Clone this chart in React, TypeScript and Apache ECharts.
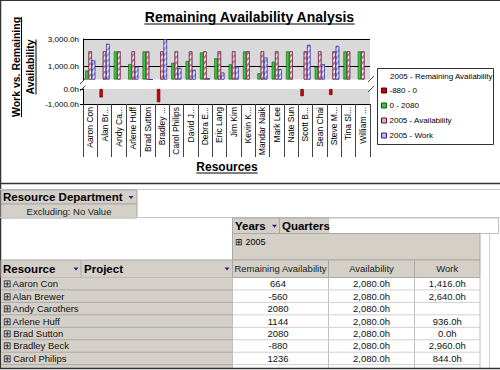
import React, { useEffect, useRef } from "react";
import * as echarts from "echarts";

const FONT = '"Liberation Sans", Arial, sans-serif';

const categories = [
  "Aaron Con", "Alan Br...", "Andy Ca...", "Arlene Huff", "Brad Sutton", "Bradley ...",
  "Carol Philips", "David J...", "Debra E...", "Eric Lang", "Jim Kim", "Kevin K...",
  "Mandar Naik", "Mark Lee", "Nate Sun", "Scott B...", "Sean Chai", "Steve M...",
  "Tina Sl...", "William ...",
];
const remainingAvailability = [
  664, -560, 2080, 1144, 2080, -880, 1236, 1368, 2000, 1570,
  1125, 2080, 460, 1320, 2080, -480, 950, -400, 2080, 2080,
];
const availability = [
  2080, 2080, 2080, 2080, 2080, 2080, 2080, 2080, 2080, 2080,
  2080, 2080, 2080, 2080, 2080, 2080, 2080, 2080, 2080, 2080,
];
const work: (number | null)[] = [
  1416, 2640, null, 936, 0, 2960, 844, 712, 80, 510,
  955, null, 1620, 760, null, 2560, 1130, 2480, null, null,
];
const topTickLabels = [1000, 3000];
const bottomTickLabels = [0, -1000];
const legendLabels = ["2005 - Remaining Availability", "-880 - 0", "0 - 2080", "2005 - Availability", "2005 - Work"];
const tableResources = ["Aaron Con", "Alan Brewer", "Andy Carothers", "Arlene Huff", "Brad Sutton", "Bradley Beck", "Carol Philips"];
const tableColumns = ["Remaining Availability", "Availability", "Work"];

const fmtHours = (v: number) =>
  v.toLocaleString("en-US", { minimumFractionDigits: 1, maximumFractionDigits: 1 }) + "h";

function measure(text: string, font: string) {
  const ctx = document.createElement("canvas").getContext("2d")!;
  ctx.font = font;
  return ctx.measureText(text).width;
}

function buildGraphics() {
  const g: any[] = [];
  const line = (x1: number, y1: number, x2: number, y2: number, stroke: string, lw = 1) =>
    g.push({ type: "line", silent: true, shape: { x1, y1, x2, y2 }, style: { stroke, lineWidth: lw } });
  const rect = (x: number, y: number, w: number, h: number, fill: string, stroke?: string) =>
    g.push({ type: "rect", silent: true, shape: { x, y, width: w, height: h }, style: { fill, stroke: stroke || "none", lineWidth: 1 } });
  const text = (x: number, y: number, t: string, size: number, opts: any = {}) =>
    g.push({
      type: "text", silent: true, x, y, rotation: opts.rotation || 0,
      style: {
        text: t, fontSize: size, fontFamily: FONT, fontWeight: opts.bold ? "bold" : "normal",
        fill: opts.color || "#000", align: opts.align || "left", textAlign: opts.align || "left",
        verticalAlign: "middle", textVerticalAlign: "middle",
      },
    });
  const arrow = (x: number, y: number) =>
    g.push({ type: "polygon", silent: true, shape: { points: [[x - 2.5, y - 1], [x + 2.5, y - 1], [x, y + 2]] }, style: { fill: "#22228a" } });

  // ---- chart titles ----
  const title = "Remaining Availability Analysis";
  const tw = measure(title, `bold 14px ${FONT}`);
  text(249.5, 17, title, 14, { bold: true, align: "center" });
  line(249.5 - tw / 2, 24, 249.5 + tw / 2, 24, "#000", 1);

  const yt1 = "Work vs. Remaining";
  const yt2 = "Availability";
  const w1 = measure(yt1, `bold 10.5px ${FONT}`);
  const w2 = measure(yt2, `bold 10.5px ${FONT}`);
  text(15.5, 67, yt1, 10.5, { bold: true, align: "center", rotation: Math.PI / 2 });
  line(21.5, 67 - w1 / 2, 21.5, 67 + w1 / 2, "#000", 1);
  text(30, 67, yt2, 10.5, { bold: true, align: "center", rotation: Math.PI / 2 });
  line(36, 67 - w2 / 2, 36, 67 + w2 / 2, "#000", 1);

  const xt = "Resources";
  const xw = measure(xt, `bold 12px ${FONT}`);
  text(227, 167, xt, 12, { bold: true, align: "center" });
  line(227 - xw / 2, 173, 227 + xw / 2, 173, "#000", 1);

  // axis break marks
  line(80, 84, 85.5, 78.5, "#444", 1);
  line(80, 91, 85.5, 85.5, "#444", 1);
  line(368, 82, 374, 76, "#444", 1);
  line(368, 92, 374, 86, "#444", 1);

  // ---- legend ----
  rect(377.5, 68.5, 116, 76, "#fff", "#333");
  text(390, 76.5, legendLabels[0], 8);
  const swatchFill = ["#cc0000", "#33cc33", "#e0b0c8", "#b8b8ff"];
  const swatchStroke = ["#5a0000", "#145214", "#5a1030", "#2a2a80"];
  for (let i = 1; i < legendLabels.length; i++) {
    const cy = 90.5 + 15 * (i - 1);
    rect(381.5, cy - 2.5, 5, 5, swatchFill[i - 1], swatchStroke[i - 1]);
    text(389.5, cy, legendLabels[i], 8);
  }

  // ---- frame ----
  line(0, 0.5, 500, 0.5, "#333", 1);
  line(0.5, 0, 0.5, 370, "#333", 1.5);
  line(0, 183.5, 500, 183.5, "#333", 1.5);

  // ---- pivot table ----
  const GRAY = "#d4d0c8";
  line(0, 189.5, 500, 189.5, "#c8c8c8", 1);
  rect(1, 190, 136, 14, GRAY, "#a8a8a8");
  rect(1, 204, 136, 14, GRAY, "#a8a8a8");
  text(3, 197, "Resource Department", 11.5, { bold: true });
  arrow(131, 197);
  text(69, 211.5, "Excluding: No Value", 9.5, { align: "center", color: "#222" });
  line(0, 217.5, 500, 217.5, "#c8c8c8", 1);

  // Years / Quarters
  rect(232.5, 218, 47, 15.5, GRAY, "#a8a8a8");
  rect(279.5, 218, 49, 15.5, GRAY, "#a8a8a8");
  rect(328.5, 218, 170, 15.5, "#fff", "#c0c0c0");
  text(235, 225.8, "Years", 11.5, { bold: true });
  arrow(274.5, 225.8);
  text(282, 225.8, "Quarters", 11.5, { bold: true });

  // 2005 group cell
  rect(232.5, 233.5, 247.5, 26.5, GRAY, "#a8a8a8");
  text(235, 241.5, "\u229E 2005", 9);

  // header row
  const colX = [232.5, 328.5, 414.5, 480];
  rect(1, 260, 231.5, 17.5, GRAY, "#a8a8a8");
  line(81, 260, 81, 277.5, "#a8a8a8", 1);
  text(3, 268.5, "Resource", 11.5, { bold: true });
  arrow(76, 268.5);
  text(84, 268.5, "Project", 11.5, { bold: true });
  arrow(227, 268.5);
  for (let c = 0; c < 3; c++) {
    rect(colX[c], 260, colX[c + 1] - colX[c], 17.5, GRAY, "#a8a8a8");
    text((colX[c] + colX[c + 1]) / 2, 268.5, tableColumns[c], 9.5, { align: "center", color: "#222" });
  }

  // data rows
  const rowTop = 277.5;
  const rowH = 12.45;
  rect(1, rowTop, 231.5, 370 - rowTop, GRAY);
  line(489.5, 233.5, 489.5, 368, "#d0d0d0", 1);
  for (let c = 0; c < colX.length; c++) line(colX[c], rowTop, colX[c], 370, "#c0c0c0", 1);
  for (let i = 0; i < tableResources.length; i++) {
    const y0 = rowTop + rowH * i;
    const cy = y0 + rowH / 2;
    line(1, y0 + rowH, 232.5, y0 + rowH, "#a8a8a8", 1);
    line(232.5, y0 + rowH, 480, y0 + rowH, "#d0d0d0", 1);
    text(2.5, cy, "\u229E " + tableResources[i], 9.5, { color: "#111" });
    const ra = remainingAvailability[i];
    text(278, cy, String(ra), 9.5, { align: "center", color: "#111" });
    text((colX[1] + colX[2]) / 2, cy, fmtHours(availability[i]), 9.5, { align: "center", color: "#111" });
    const wv = work[i];
    if (wv !== null) text((colX[2] + colX[3]) / 2, cy, fmtHours(wv), 9.5, { align: "center", color: "#111" });
  }
  rect(0, 368.5, 500, 2, "#fff");
  line(0, 368.5, 500, 368.5, "#333", 1.5);
  return g;
}

export default function App() {
  const ref = useRef<HTMLDivElement>(null);
  useEffect(() => {
    if (!ref.current) return;
    const chart = echarts.init(ref.current, undefined, { renderer: "svg" });
    const stripe = (color: string) => ({
      symbol: "rect", symbolSize: 1, dashArrayX: [1, 0], dashArrayY: [1.2, 1.4],
      rotation: -Math.PI / 4, color,
    });
    const barCommon = { barGap: "0%", barCategoryGap: "30%" };
    const option: any = {
      animation: false,
      textStyle: { fontFamily: FONT },
      grid: [
        { left: 83, top: 39, width: 287, height: 40.5, show: true, backgroundColor: "#d9d9d9", borderWidth: 0 },
        { left: 83, top: 89, width: 287, height: 15, show: true, backgroundColor: "#d9d9d9", borderWidth: 0 },
      ],
      xAxis: [
        { type: "category", gridIndex: 0, data: categories, show: false },
        {
          type: "category", gridIndex: 1, data: categories,
          axisLine: { onZero: false, lineStyle: { color: "#000", width: 1 } },
          axisTick: { show: true, interval: 0, length: 53, lineStyle: { color: "#444" } },
          axisLabel: { interval: 0, rotate: 90, margin: 3, fontSize: 8.5, color: "#000", fontFamily: FONT },
        },
      ],
      yAxis: [
        {
          type: "value", gridIndex: 0, min: 0, max: 3000, interval: 1000,
          axisLine: { show: true, lineStyle: { color: "#000" } },
          axisTick: { show: false },
          axisLabel: {
            margin: 4, fontSize: 8, color: "#000", fontFamily: FONT,
            formatter: (v: number) => (topTickLabels.includes(v) ? fmtHours(v) : ""),
          },
          splitLine: { show: true, lineStyle: { color: ["rgba(0,0,0,0)", "#000", "rgba(0,0,0,0)", "#000"], width: 1 } },
        },
        {
          type: "value", gridIndex: 1, min: -1000, max: 0, interval: 1000,
          axisLine: { show: true, lineStyle: { color: "#000" } },
          axisTick: { show: true, length: 3, lineStyle: { color: "#000" } },
          axisLabel: {
            margin: 4, fontSize: 8, color: "#000", fontFamily: FONT,
            formatter: (v: number) => (bottomTickLabels.includes(v) ? fmtHours(v) : ""),
          },
          splitLine: { show: false },
        },
      ],
      series: [
        {
          type: "bar", name: legendLabels[2], xAxisIndex: 0, yAxisIndex: 0, ...barCommon,
          data: remainingAvailability.map((v) => (v >= 0 ? v : null)),
          itemStyle: { color: "#33cc33", borderColor: "#145214", borderWidth: 0.6 },
        },
        {
          type: "bar", name: legendLabels[3], xAxisIndex: 0, yAxisIndex: 0, ...barCommon,
          data: availability,
          itemStyle: { color: "#ffffff", borderColor: "#6a2040", borderWidth: 0.6, decal: stripe("#cc6f9c") },
        },
        {
          type: "bar", name: legendLabels[4], xAxisIndex: 0, yAxisIndex: 0, ...barCommon,
          data: work,
          itemStyle: { color: "#a4a4ff", borderColor: "#3a3a90", borderWidth: 0.6, decal: stripe("rgba(255,255,255,0.85)") },
        },
        {
          type: "bar", name: legendLabels[1], xAxisIndex: 1, yAxisIndex: 1, ...barCommon,
          data: remainingAvailability.map((v) => (v < 0 ? v : null)),
          itemStyle: { color: "#cc0000", borderColor: "#5a0000", borderWidth: 0.6 },
        },
        { type: "bar", name: "slot-a", xAxisIndex: 1, yAxisIndex: 1, ...barCommon, data: categories.map(() => null) },
        { type: "bar", name: "slot-b", xAxisIndex: 1, yAxisIndex: 1, ...barCommon, data: categories.map(() => null) },
      ],
      graphic: { elements: buildGraphics() },
    };
    chart.setOption(option);
    return () => chart.dispose();
  }, []);
  return (
    <div
      ref={ref}
      style={{ position: "absolute", left: 0, top: 0, width: 500, height: 370, background: "#fff" }}
    />
  );
}
